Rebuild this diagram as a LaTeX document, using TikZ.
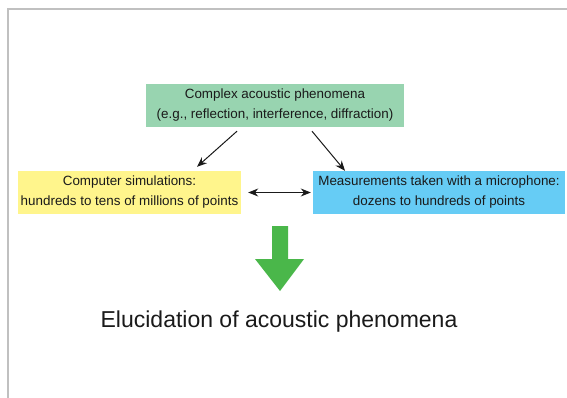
\documentclass[tikz,border=0pt]{standalone}
\usepackage{fontspec}
\setmainfont{Liberation Sans}
\usetikzlibrary{arrows.meta}
\definecolor{frame}{RGB}{192,192,192}
\definecolor{gbox}{RGB}{152,212,176}
\definecolor{ybox}{RGB}{255,245,140}
\definecolor{bbox}{RGB}{102,204,245}
\definecolor{garrow}{RGB}{74,183,74}
\definecolor{ink}{RGB}{26,26,26}
\tikzset{
  boxnode/.style={inner sep=0pt, minimum height=43pt, align=center, text=ink,
    font=\fontsize{13.4}{20}\selectfont},
  conn/.style={draw=ink, line width=1pt, -{Stealth[length=10pt,width=8pt]}},
  dconn/.style={draw=ink, line width=1pt, {Stealth[length=10pt,width=8pt]}-{Stealth[length=10pt,width=8pt]}},
}
\begin{document}
\begin{tikzpicture}[x=1pt,y=-1pt]
\useasboundingbox (0,0) rectangle (567,398);
\fill[white] (0,0) rectangle (567,398);
\draw[frame, line width=2pt] (8,398) -- (8,9) -- (567,9);
\node[boxnode, fill=gbox, minimum width=258pt] (g) at (275,105.5)
  {Complex acoustic phenomena\\(e.g., reflection, interference, diffraction)};
\node[boxnode, fill=ybox, minimum width=223pt] (y) at (129.5,192.5)
  {Computer simulations:\\hundreds to tens of millions of points};
\node[boxnode, fill=bbox, minimum width=252pt] (b) at (439,192.5)
  {Measurements taken with a microphone:\\dozens to hundreds of points};
\draw[conn] ([xshift=-38pt,yshift=-4pt]g.south) -- ([xshift=67.5pt,yshift=4pt]y.north);
\draw[conn] ([xshift=37pt,yshift=-4pt]g.south) -- ([xshift=-94pt]b.north);
\draw[dconn] ([xshift=7pt]y.east) -- ([xshift=-2pt]b.west);
\fill[garrow] (272,226) -- (288,226) -- (288,259) -- (304,259) -- (280,291)
  -- (255,259) -- (272,259) -- cycle;
\node[anchor=base, inner sep=0pt, text=ink, font=\fontsize{23}{27}\selectfont] (t) at (279,327)
  {Elucidation of acoustic phenomena};
\end{tikzpicture}
\end{document}
